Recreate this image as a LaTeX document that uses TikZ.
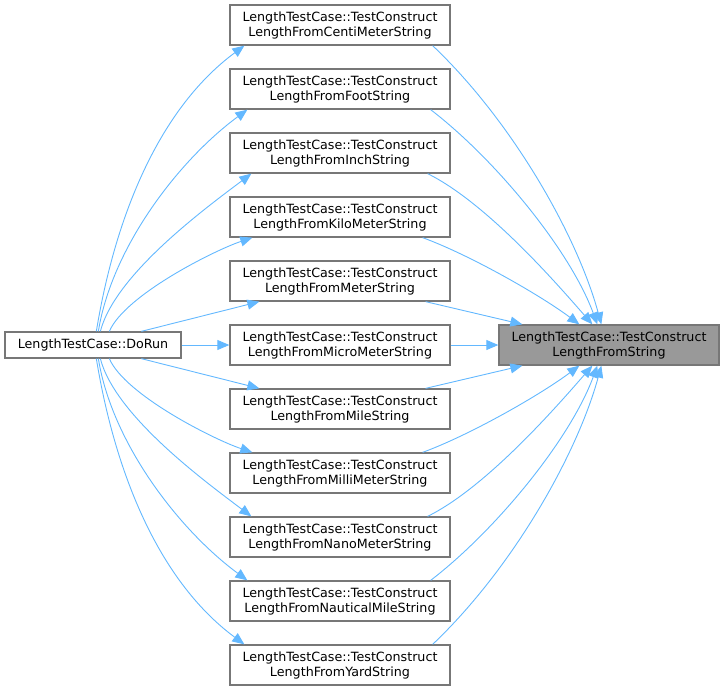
\documentclass[tikz,border=0pt]{standalone}
\usepackage{fontspec}
\setmainfont{DejaVu Sans}
\usetikzlibrary{arrows.meta}
\definecolor{edgeblue}{HTML}{63B8FF}
\definecolor{boxborder}{HTML}{777777}
\definecolor{hifill}{HTML}{999999}
\begin{document}
\begin{tikzpicture}[x=1pt,y=-1pt,
  every node/.style={font=\fontsize{12.7}{15}\selectfont, text=black},
  box/.style={draw=boxborder, line width=1.3pt, fill=white, inner sep=0pt, align=center},
  midbox/.style={box, minimum width=220pt, minimum height=40pt},
  hibox/.style={midbox, fill=hifill},
  leftbox/.style={box, minimum width=176pt, minimum height=26pt},
  edge/.style={draw=edgeblue, line width=0.9pt, -{Triangle[length=12pt,width=10pt]}}]
\useasboundingbox (0,0) rectangle (725,691);

\node[leftbox] (dorun) at (93,345) {LengthTestCase::DoRun};
\node[hibox] (r) at (609,345) {LengthTestCase::TestConstruct\\LengthFromString};

\node[midbox] (m0) at (340,25) {LengthTestCase::TestConstruct\\LengthFromCentiMeterString};
\node[midbox] (m1) at (340,89) {LengthTestCase::TestConstruct\\LengthFromFootString};
\node[midbox] (m2) at (340,153) {LengthTestCase::TestConstruct\\LengthFromInchString};
\node[midbox] (m3) at (340,217) {LengthTestCase::TestConstruct\\LengthFromKiloMeterString};
\node[midbox] (m4) at (340,281) {LengthTestCase::TestConstruct\\LengthFromMeterString};
\node[midbox] (m5) at (340,345) {LengthTestCase::TestConstruct\\LengthFromMicroMeterString};
\node[midbox] (m6) at (340,409) {LengthTestCase::TestConstruct\\LengthFromMileString};
\node[midbox] (m7) at (340,473) {LengthTestCase::TestConstruct\\LengthFromMilliMeterString};
\node[midbox] (m8) at (340,537) {LengthTestCase::TestConstruct\\LengthFromNanoMeterString};
\node[midbox] (m9) at (340,601) {LengthTestCase::TestConstruct\\LengthFromNauticalMileString};
\node[midbox] (m10) at (340,665) {LengthTestCase::TestConstruct\\LengthFromYardString};

% DoRun -> middle (top half)
\draw[edge] ([xshift=92pt]dorun.north west) .. controls (114,223) and (156,111) .. ([xshift=15pt]m0.south west);
\draw[edge] ([xshift=94pt]dorun.north west) .. controls (112,247) and (179,160) .. ([xshift=18pt]m1.south west);
\draw[edge] ([xshift=96pt]dorun.north west) .. controls (115,275) and (203,210) .. ([xshift=22pt]m2.south west);
\draw[edge] ([xshift=105pt]dorun.north west) .. controls (125,295) and (215,250) .. ([xshift=23pt]m3.south west);
\draw[edge] ([xshift=137pt]dorun.north west) -- ([xshift=30pt]m4.south west);
\draw[edge] (dorun.east) -- (m5.west);
% DoRun -> middle (bottom half)
\draw[edge] ([xshift=137pt]dorun.south west) -- ([xshift=30pt]m6.north west);
\draw[edge] ([xshift=105pt]dorun.south west) .. controls (125,395) and (215,440) .. ([xshift=23pt]m7.north west);
\draw[edge] ([xshift=96pt]dorun.south west) .. controls (115,415) and (203,480) .. ([xshift=22pt]m8.north west);
\draw[edge] ([xshift=94pt]dorun.south west) .. controls (112,443) and (179,530) .. ([xshift=18pt]m9.north west);
\draw[edge] ([xshift=92pt]dorun.south west) .. controls (114,467) and (156,579) .. ([xshift=15pt]m10.north west);

% middle -> right (top half)
\draw[edge] ([xshift=-18pt]m0.south east) .. controls (512,121) and (577,235) .. ([xshift=103pt]r.north west);
\draw[edge] ([xshift=-20pt]m1.south east) .. controls (495,159) and (570,250) .. ([xshift=99pt]r.north west);
\draw[edge] ([xshift=-23pt]m2.south east) .. controls (487,203) and (558,285) .. ([xshift=94pt]r.north west);
\draw[edge] ([xshift=-28pt]m3.south east) .. controls (470,255) and (540,295) .. ([xshift=81pt]r.north west);
\draw[edge] ([xshift=-25pt]m4.south east) -- ([xshift=24pt]r.north west);
\draw[edge] (m5.east) -- (r.west);
% middle -> right (bottom half)
\draw[edge] ([xshift=-25pt]m6.north east) -- ([xshift=24pt]r.south west);
\draw[edge] ([xshift=-28pt]m7.north east) .. controls (470,435) and (540,395) .. ([xshift=81pt]r.south west);
\draw[edge] ([xshift=-23pt]m8.north east) .. controls (487,487) and (558,405) .. ([xshift=94pt]r.south west);
\draw[edge] ([xshift=-20pt]m9.north east) .. controls (495,531) and (570,440) .. ([xshift=99pt]r.south west);
\draw[edge] ([xshift=-18pt]m10.north east) .. controls (512,569) and (577,455) .. ([xshift=103pt]r.south west);
\end{tikzpicture}
\end{document}
